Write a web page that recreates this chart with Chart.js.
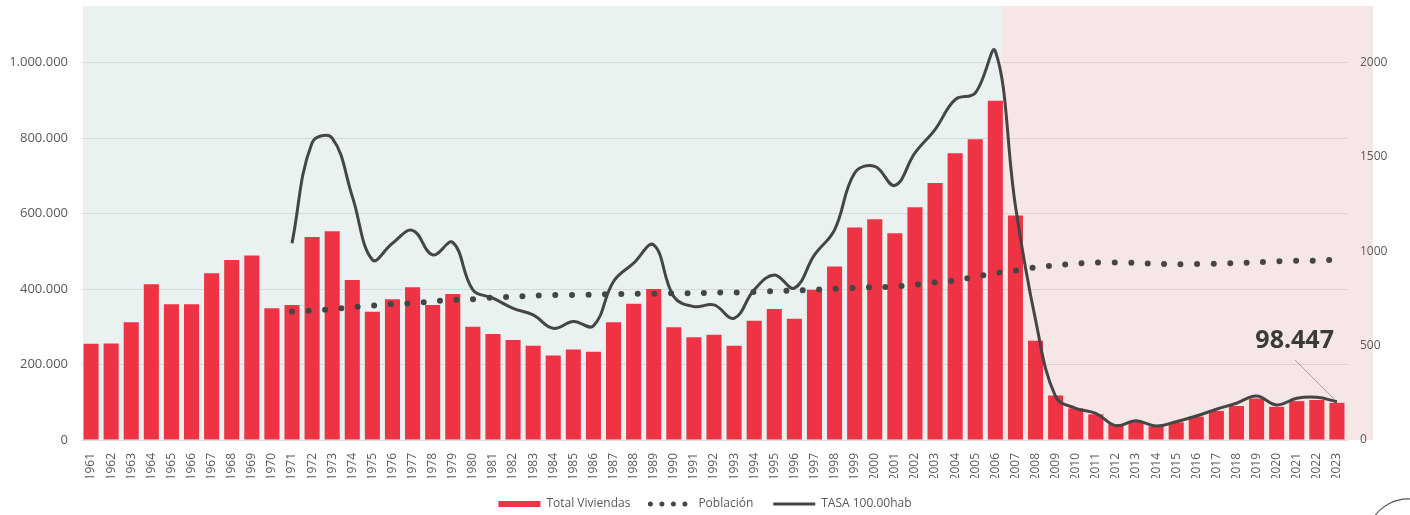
<!DOCTYPE html>
<html>
<head>
<meta charset="utf-8">
<script src="https://cdn.jsdelivr.net/npm/chart.js@4.4.1/dist/chart.umd.min.js"></script>
<style>
  html, body { margin: 0; padding: 0; background: #ffffff; overflow: hidden; }
  #wrap { width: 1410px; height: 515px; position: relative; overflow: hidden; }
</style>
</head>
<body>
<div id="wrap"><canvas id="viviendasChart" width="1410" height="520"></canvas></div>
<script>
// Categories and series
const years = ['1961','1962','1963','1964','1965','1966','1967','1968','1969','1970',
  '1971','1972','1973','1974','1975','1976','1977','1978','1979','1980',
  '1981','1982','1983','1984','1985','1986','1987','1988','1989','1990',
  '1991','1992','1993','1994','1995','1996','1997','1998','1999','2000',
  '2001','2002','2003','2004','2005','2006','2007','2008','2009','2010',
  '2011','2012','2013','2014','2015','2016','2017','2018','2019','2020',
  '2021','2022','2023'];

const totalViviendas = [255000, 256000, 312000, 413000, 360000, 360000, 442000, 477000, 489000, 349000,
  358000, 538000, 553000, 424000, 340000, 373000, 405000, 358000, 387000, 300000,
  281000, 265000, 250000, 224000, 240000, 234000, 312000, 361000, 400000, 299000,
  272000, 279000, 250000, 316000, 347000, 321000, 398000, 460000, 563000, 585000,
  548000, 617000, 681000, 760000, 797000, 899000, 595000, 263000, 118000, 84000,
  68000, 42000, 49000, 36000, 47000, 62000, 77000, 90000, 110000, 88000,
  103000, 106000, 98447];

const poblacion = [null, null, null, null, null, null, null, null, null, null,
  681, 686, 693, 704, 712, 720, 725, 734, 743, 746,
  755, 759, 764, 768, 768, 771, 773, 775, 775, 778,
  778, 781, 781, 785, 789, 792, 796, 801, 806, 810,
  813, 822, 835, 845, 866, 884, 898, 915, 925, 935,
  940, 940, 938, 933, 932, 932, 935, 938, 942, 947,
  950, 951, 957];

const tasa = [null, null, null, null, null, null, null, null, null, null,
  1043, 1575, 1600, 1291, 955, 1043, 1111, 981, 1047, 796,
  752, 698, 663, 592, 628, 605, 840, 937, 1034, 760,
  707, 716, 645, 796, 875, 805, 981, 1114, 1415, 1450,
  1349, 1521, 1645, 1804, 1839, 2060, 1240, 637, 230, 168,
  141, 76, 102, 74, 97, 127, 163, 195, 233, 186,
  221, 226, 203];

const leftTicks = [0, 200000, 400000, 600000, 800000, 1000000];
const rightTicks = [0, 500, 1000, 1500, 2000];
const leftMax = 1150000;
const rightMax = 2300;
const lastLabel = '98.447';
const crisisStart = 2006; // pink area starts after this year

function puntos(v) {
    return String(v).replace(/\B(?=(\d{3})+(?!\d))/g, '.');
}

// Shaded periods behind the plot
const fondoPlugin = {
    id: 'fondo',
    beforeDraw(chart) {
        const { ctx, chartArea, scales } = chart;
        const x = scales.x;
        const idx = years.indexOf(String(crisisStart));
        const step = x.getPixelForValue(1) - x.getPixelForValue(0);
        const split = x.getPixelForValue(idx) + step * 0.3;
        ctx.save();
        ctx.fillStyle = '#e9f2f1';
        ctx.fillRect(chartArea.left + 2, chartArea.top, split - chartArea.left - 2, chartArea.bottom - chartArea.top);
        ctx.fillStyle = '#f7e6e6';
        ctx.fillRect(split, chartArea.top, chartArea.right + 26 - split, chartArea.bottom - chartArea.top);
        ctx.restore();
    }
};

// Last value callout + small logo arc
const notaPlugin = {
    id: 'nota',
    afterDatasetsDraw(chart) {
        const { ctx, scales } = chart;
        const i = totalViviendas.length - 1;
        const bx = scales.x.getPixelForValue(i);
        const by = scales.y.getPixelForValue(totalViviendas[i]);
        ctx.save();
        ctx.strokeStyle = '#a0a0a0';
        ctx.lineWidth = 1;
        ctx.beginPath();
        ctx.moveTo(bx - 42, by - 43);
        ctx.lineTo(bx - 2, by - 3);
        ctx.stroke();
        ctx.fillStyle = '#3a3a3a';
        ctx.font = 'bold 25px "Open Sans", sans-serif';
        ctx.textAlign = 'right';
        ctx.textBaseline = 'alphabetic';
        ctx.fillText(lastLabel, bx - 3, by - 55);

        ctx.strokeStyle = '#555555';
        ctx.lineWidth = 1.2;
        ctx.beginPath();
        ctx.arc(1408, 540, 41, Math.PI * 1.1, Math.PI * 1.6);
        ctx.stroke();
        ctx.restore();
    }
};

const ctx = document.getElementById('viviendasChart').getContext('2d');
const chart = new Chart(ctx, {
    type: 'bar',
    data: {
        labels: years,
        datasets: [{
            label: 'Total Viviendas',
            data: totalViviendas,
            backgroundColor: '#ee3344',
            barPercentage: 0.75,
            categoryPercentage: 1,
            yAxisID: 'y',
            order: 3
        }, {
            type: 'line',
            label: 'Población',
            data: poblacion,
            borderColor: '#454545',
            borderWidth: 6,
            borderDash: [0, 16.5],
            borderCapStyle: 'round',
            pointRadius: 0,
            tension: 0.3,
            fill: false,
            yAxisID: 'y1',
            order: 2
        }, {
            type: 'line',
            label: 'TASA 100.00hab',
            data: tasa,
            borderColor: '#454545',
            borderWidth: 3,
            pointRadius: 0,
            tension: 0.4,
            fill: false,
            yAxisID: 'y1',
            order: 1
        }]
    },
    options: {
        responsive: false,
        animation: false,
        layout: {
            padding: { top: 6, bottom: 0, left: 0, right: 0 }
        },
        plugins: {
            legend: {
                position: 'bottom',
                labels: {
                    color: '#595959',
                    font: { family: 'Open Sans', size: 12 },
                    boxWidth: 42,
                    boxHeight: 6,
                    padding: 20,
                    usePointStyle: true,
                    pointStyleWidth: 42,
                    generateLabels(chart) {
                        const items = Chart.defaults.plugins.legend.labels.generateLabels(chart);
                        items.sort((a, b) => a.datasetIndex - b.datasetIndex);
                        items[0].pointStyle = 'rect';
                        items[0].lineWidth = 0;
                        items[1].pointStyle = 'line';
                        items[1].lineDash = [0, 11.5];
                        items[1].lineCap = 'round';
                        items[1].lineWidth = 5;
                        items[2].pointStyle = 'line';
                        items[2].lineWidth = 3;
                        return items;
                    }
                }
            },
            tooltip: { enabled: false }
        },
        scales: {
            x: {
                grid: { display: false },
                border: { display: true, color: '#dddddd' },
                ticks: {
                    color: '#595959',
                    font: { family: 'Open Sans', size: 12 },
                    autoSkip: false,
                    minRotation: 90,
                    maxRotation: 90,
                    padding: 5
                },
                afterFit(scale) {
                    scale.height = 38;
                    scale.paddingLeft = 0;
                    scale.paddingRight = 0;
                }
            },
            y: {
                position: 'left',
                min: 0,
                max: leftMax,
                grid: { color: 'rgba(0,0,0,0.09)', drawTicks: false },
                border: { display: false },
                ticks: {
                    padding: 13,
                    color: '#595959',
                    font: { family: 'Open Sans', size: 13 },
                    callback: v => puntos(v)
                },
                afterBuildTicks(scale) {
                    scale.ticks = leftTicks.map(v => ({ value: v }));
                },
                afterFit(scale) {
                    scale.width = 81;
                    scale.paddingTop = 0;
                    scale.paddingBottom = 0;
                }
            },
            y1: {
                position: 'right',
                min: 0,
                max: rightMax,
                grid: { display: false },
                border: { display: false },
                ticks: {
                    padding: 5,
                    color: '#595959',
                    font: { family: 'Open Sans', size: 12 },
                    callback: v => String(v)
                },
                afterBuildTicks(scale) {
                    scale.ticks = rightTicks.map(v => ({ value: v }));
                },
                afterFit(scale) {
                    scale.width = 63;
                    scale.paddingTop = 0;
                    scale.paddingBottom = 0;
                }
            }
        }
    },
    plugins: [fondoPlugin, notaPlugin]
});
</script>
</body>
</html>
